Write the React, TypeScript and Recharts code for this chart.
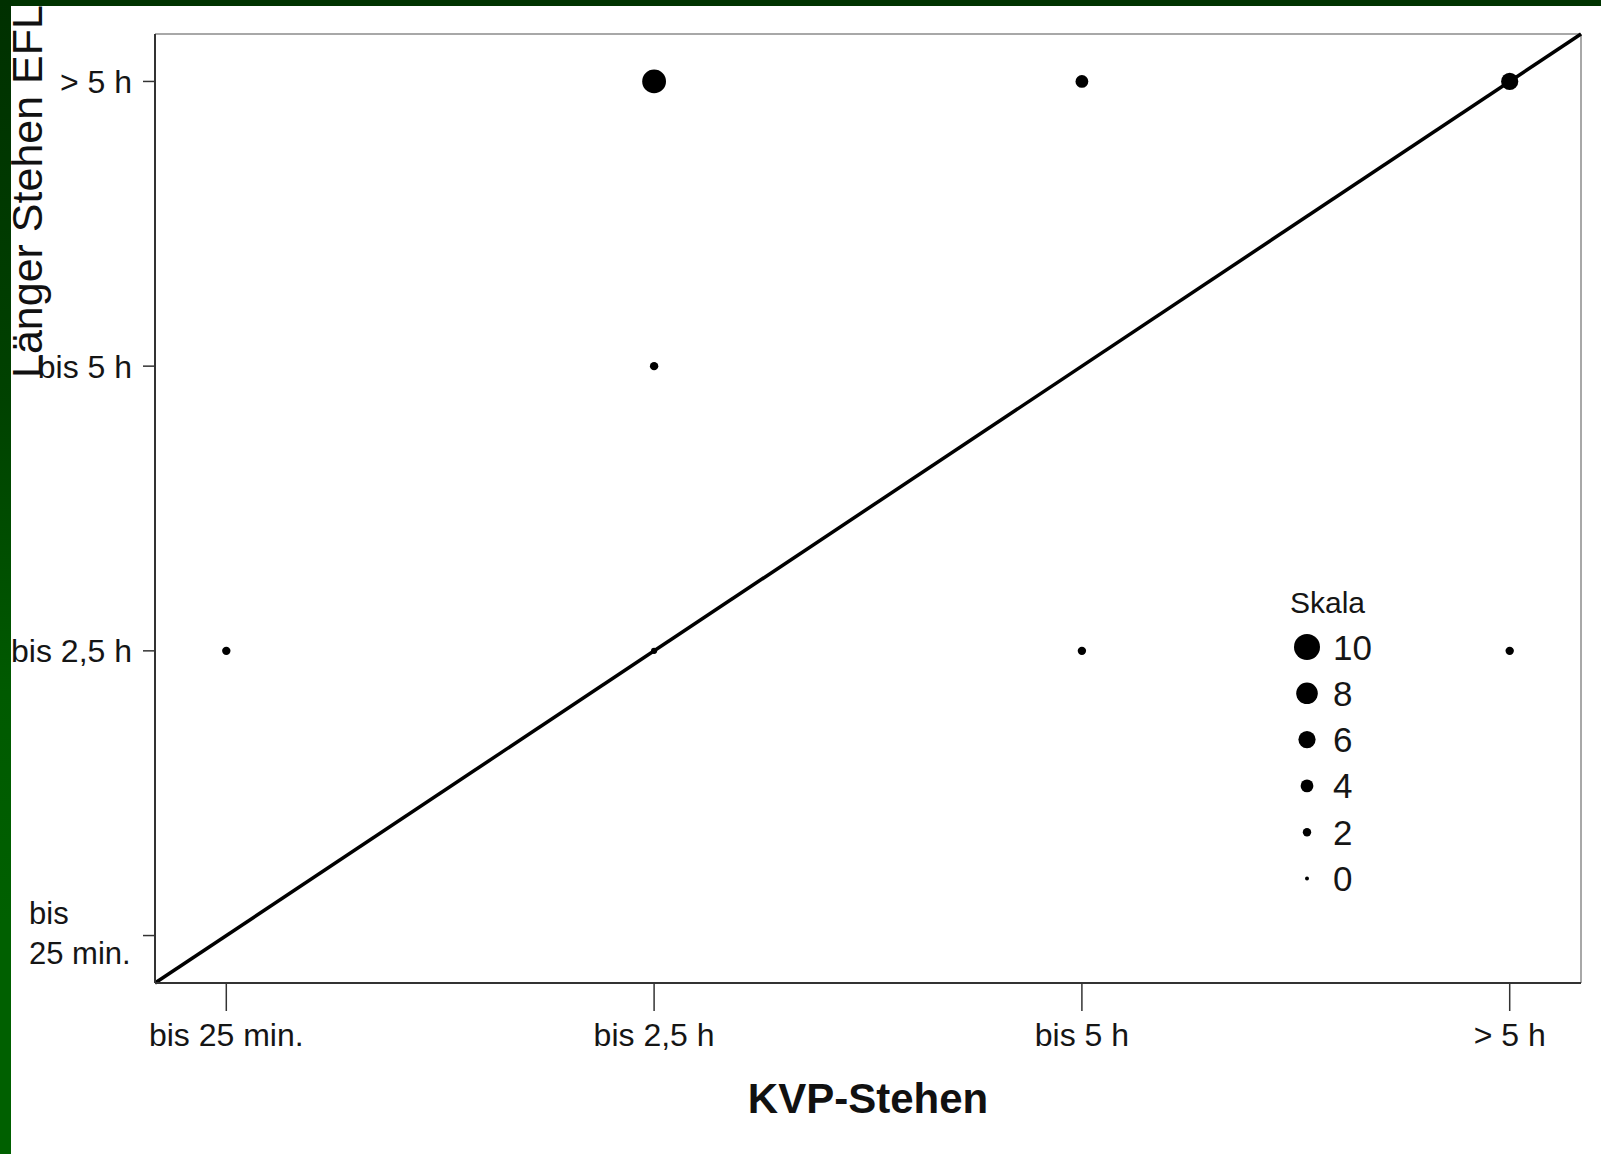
import React from 'react';
import { ScatterChart, Scatter, XAxis, YAxis, ReferenceLine } from 'recharts';

// Categories (shared by both axes)
const categories = ['bis 25 min.', 'bis 2,5 h', 'bis 5 h', '> 5 h'];
// KVP-Stehen category index per point
const kvpStehen = [1, 2, 3, 1, 0, 1, 2, 3];
// Länger Stehen EFL category index per point
const eflStehen = [3, 3, 3, 2, 1, 1, 1, 1];
// Count per point (bubble size)
const anzahl = [9, 4, 6, 2, 2, 1, 2, 2];
// Legend ("Skala") values
const legendValues = [10, 8, 6, 4, 2, 0];
const axisDomain = [-1 / 6, 3 + 1 / 6];
const tickValues = categories.map((_, i) => i);

const points = kvpStehen.map((x, i) => ({ x, y: eflStehen[i], n: anzahl[i] }));

const FONT = '"Liberation Sans", Arial, Helvetica, sans-serif';
const radius = (n: number) => 2 + 1.1 * n;

const Dot = (props: any) => {
  const { cx, cy, payload } = props;
  if (cx == null || cy == null) return null;
  return <circle cx={cx} cy={cy} r={radius(payload.n)} fill="#000" />;
};

const YTick = (props: any) => {
  const { x, y, payload } = props;
  const label = categories[payload.value];
  if (payload.value === 0) {
    const parts = label.split(' ');
    return (
      <text x={x - 103} y={y} fontSize={31} fontFamily={FONT} fill="#151515" textAnchor="start">
        <tspan x={x - 103} dy={-12}>{parts[0]}</tspan>
        <tspan x={x - 103} dy={40}>{parts.slice(1).join(' ')}</tspan>
      </text>
    );
  }
  return (
    <text x={x} y={y} dy="0.355em" fontSize={32} fontFamily={FONT} fill="#151515" textAnchor="end">
      {label}
    </text>
  );
};

const YLabel = () => (
  <text
    x={42}
    y={378}
    transform="rotate(-90, 42, 378)"
    fontSize={43}
    fontFamily={FONT}
    fill="#111"
    textAnchor="start"
  >
    Länger Stehen EFL
  </text>
);

export default function App() {
  return (
    <div
      style={{
        position: 'absolute',
        left: 0,
        top: 0,
        width: 1601,
        height: 1154,
        background: '#fff',
        overflow: 'hidden',
        fontFamily: FONT,
      }}
    >
      <ScatterChart width={1601} height={1154} margin={{ top: 34, right: 20, left: 0, bottom: 0 }}>
        <XAxis
          dataKey="x"
          type="number"
          domain={axisDomain}
          ticks={tickValues}
          allowDataOverflow
          tickFormatter={(v: number) => categories[v]}
          height={171}
          tickSize={28}
          tickMargin={12}
          axisLine={{ stroke: '#333', strokeWidth: 2 }}
          tickLine={{ stroke: '#333', strokeWidth: 1.5 }}
          tick={{ fontSize: 32, fontFamily: FONT, fill: '#151515' }}
          label={{
            value: 'KVP-Stehen',
            position: 'insideBottom',
            offset: 41,
            style: { fontSize: 42, fontWeight: 'bold', fontFamily: FONT, fill: '#111' },
          }}
        />
        <YAxis
          dataKey="y"
          type="number"
          domain={axisDomain}
          ticks={tickValues}
          allowDataOverflow
          width={155}
          tickSize={12}
          tickMargin={11}
          axisLine={{ stroke: '#333', strokeWidth: 2 }}
          tickLine={{ stroke: '#333', strokeWidth: 1.5 }}
          tick={<YTick />}
          label={<YLabel />}
        />
        {/* light frame: top and right */}
        <ReferenceLine y={axisDomain[1]} stroke="#a8a8a8" strokeWidth={2} ifOverflow="visible" />
        <ReferenceLine x={axisDomain[1]} stroke="#a8a8a8" strokeWidth={2} ifOverflow="visible" />
        <ReferenceLine
          segment={[
            { x: axisDomain[0], y: axisDomain[0] },
            { x: axisDomain[1], y: axisDomain[1] },
          ]}
          stroke="#000"
          strokeWidth={3.5}
          ifOverflow="visible"
        />
        <Scatter data={points} shape={<Dot />} isAnimationActive={false} />
      </ScatterChart>

      {/* Legend "Skala" */}
      <svg
        width={200}
        height={340}
        style={{ position: 'absolute', left: 1270, top: 570 }}
      >
        <text x={20} y={43} fontSize={30} fontFamily={FONT} fill="#151515">
          Skala
        </text>
        {legendValues.map((v, i) => {
          const cy = 77 + i * 46.3;
          return (
            <g key={v}>
              <circle cx={37} cy={cy} r={radius(v)} fill="#000" />
              <text x={63} y={cy + 12.5} fontSize={35} fontFamily={FONT} fill="#151515">
                {v}
              </text>
            </g>
          );
        })}
      </svg>

      {/* Frame bands */}
      <div
        style={{
          position: 'absolute',
          left: 0,
          top: 0,
          width: 1601,
          height: 6,
          background: '#003300',
        }}
      />
      <div
        style={{
          position: 'absolute',
          left: 0,
          top: 0,
          width: 11,
          height: 1154,
          background: 'linear-gradient(to bottom, #003000 0%, #004200 35%, #005a00 60%, #006000 80%, #006000 100%)',
        }}
      />
    </div>
  );
}
